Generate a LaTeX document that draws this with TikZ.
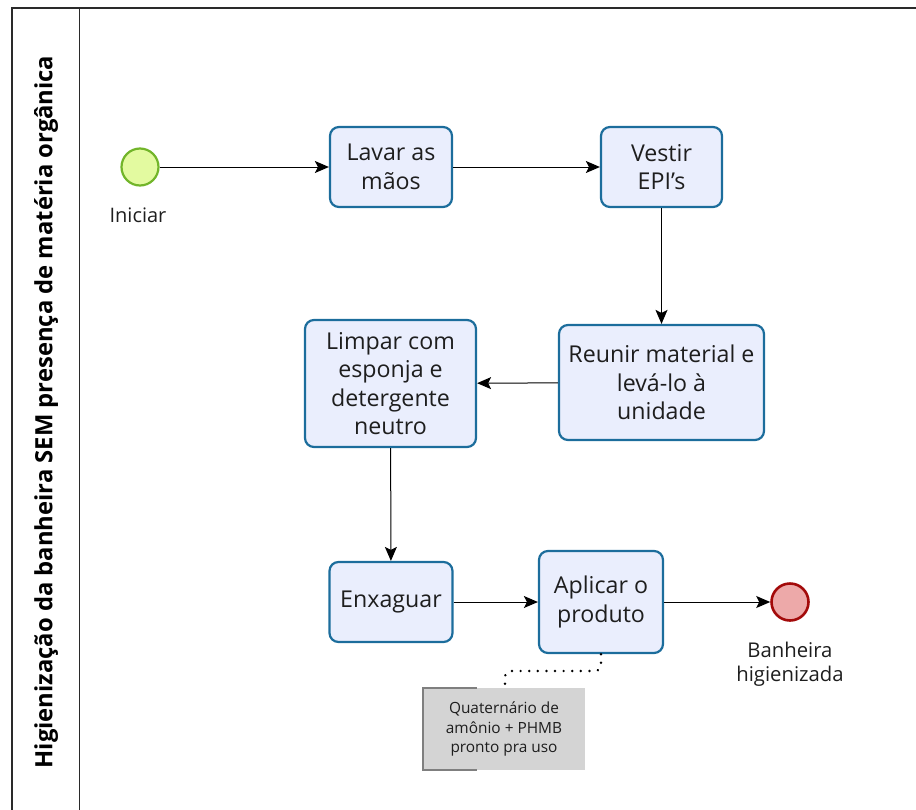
\documentclass[tikz,border=0pt]{standalone}
\usepackage{fontspec}
\setmainfont{Open Sans}
\usetikzlibrary{arrows.meta}
\definecolor{taskfill}{HTML}{EAEEFD}
\definecolor{taskdraw}{HTML}{1C6D9C}
\definecolor{startfill}{HTML}{E3FAA0}
\definecolor{startdraw}{HTML}{72B52A}
\definecolor{endfill}{HTML}{EDA9A9}
\definecolor{enddraw}{HTML}{A30A0A}
\definecolor{notefill}{HTML}{D4D4D4}
\definecolor{notedraw}{HTML}{7F7F7F}
\definecolor{textc}{HTML}{1E1E1E}
\definecolor{framec}{HTML}{2A2A2A}
\begin{document}
\begin{tikzpicture}[x=1pt,y=-1pt,
  task/.style={draw=taskdraw, fill=taskfill, line width=2.2pt, rounded corners=9pt,
    align=center, font=\fontsize{23.2}{28.5}\selectfont, text=textc, inner sep=0pt},
  flow/.style={-{Stealth[length=14pt,width=12pt,inset=3pt]}, line width=1pt, color=black},
  assoc/.style={line width=2.6pt, dash pattern=on 0.1pt off 8.5pt, line cap=round, color=black, rounded corners=6pt},
  lbl/.style={text=textc, align=center},
]
\useasboundingbox (0,0) rectangle (916,809);
% pool frame
\draw[line width=1.2pt, color=framec] (12,830) -- (12,8) -- (930,8);
\draw[line width=1pt, color=framec] (79,8) -- (79,830);
\node[rotate=90, font=\bfseries\fontsize{23.8}{28}\selectfont, text=black] (title) at (46,412)
  {Higienização da banheira SEM presença de matéria orgânica};

% events
\node[circle, draw=startdraw, fill=startfill, line width=2.2pt, minimum size=37pt, inner sep=0pt] (start) at (140,167) {};
\node[lbl, font=\fontsize{20}{24}\selectfont] (startlbl) at (138,215) {Iniciar};
\node[circle, draw=enddraw, fill=endfill, line width=2.6pt, minimum size=37pt, inner sep=0pt] (end) at (790,602) {};
\node[lbl, font=\fontsize{20.3}{24}\selectfont] (endlbl) at (790,664) {Banheira\\higienizada};

% tasks
\node[task, minimum width=122pt, minimum height=80pt] (lavar) at (391,167) {Lavar as\\mãos};
\node[task, minimum width=121pt, minimum height=80pt] (vestir) at (661.5,167) {Vestir\\EPI's};
\node[task, minimum width=205pt, minimum height=115pt] (reunir) at (661.5,382.5) {Reunir material e\\levá-lo à\\unidade};
\node[task, minimum width=171pt, minimum height=127pt] (limpar) at (390.5,383.5) {Limpar com\\esponja e\\detergente\\neutro};
\node[task, minimum width=123pt, minimum height=80pt] (enx) at (391,602) {Enxaguar};
\node[task, minimum width=124pt, minimum height=102pt] (aplicar) at (601,602) {Aplicar o\\produto};

% annotation
\node[fill=notefill, minimum width=162pt, minimum height=82pt, inner sep=0pt, align=center,
  font=\fontsize{15.4}{19.5}\selectfont, text=textc] (note) at (504,729) {Quaternário de\\amônio + PHMB\\pronto pra uso};
\draw[notedraw, line width=1.5pt] ([xshift=54pt]note.north west) -- (note.north west) -- (note.south west) -- ([xshift=54pt]note.south west);
\coordinate (bend1) at (601,671);
\coordinate (bend2) at (505,671);
\draw[assoc] (aplicar.south) -- (bend1) -- (bend2) -- (bend2 |- note.north);

% flows
\draw[flow] (start) -- (lavar);
\draw[flow] (lavar) -- (vestir);
\draw[flow] (vestir) -- (reunir);
\draw[flow] (reunir) -- (limpar);
\draw[flow] (limpar) -- (enx);
\draw[flow] (enx) -- (aplicar);
\draw[flow] (aplicar) -- (end);
\end{tikzpicture}
\end{document}
